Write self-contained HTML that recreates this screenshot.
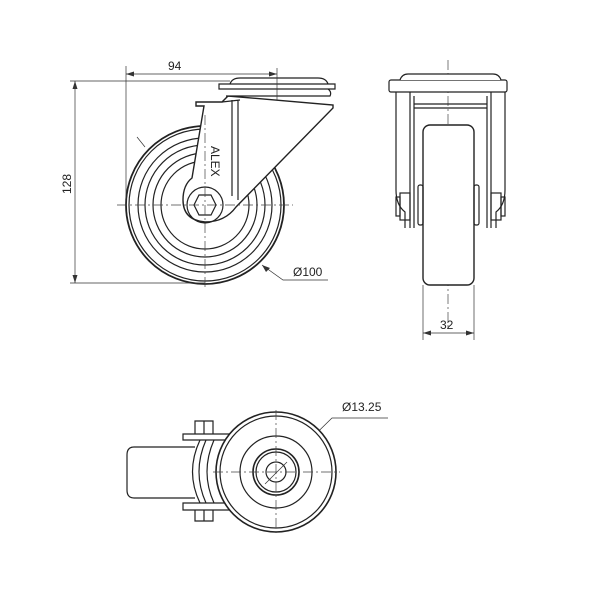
<!DOCTYPE html>
<html><head><style>html,body{margin:0;padding:0;background:#fff}svg{display:block}</style></head>
<body>
<svg width="600" height="600" viewBox="0 0 600 600" xmlns="http://www.w3.org/2000/svg" font-family="Liberation Sans, sans-serif">
<g fill="none" stroke="#222" stroke-width="1.2">
<circle cx="205" cy="205" r="79" stroke-width="1.8"/>
<circle cx="205" cy="205" r="76"/>
<circle cx="205" cy="205" r="67"/>
<circle cx="205" cy="205" r="60"/>
<circle cx="205" cy="205" r="52"/>
<circle cx="205" cy="205" r="44"/>
<path d="M196,102 L222,102 L228,96 L333,105 L333,108 L236,207 Q225,222 205,222 Q183,220 183,200 Q183,185 192,178 L204,106 L196,106 Z" fill="#fff" stroke-width="1.4"/>
<path d="M232,100 L232,196 M238,100 L238,200 M222,102 L240,100" />
<circle cx="205" cy="205" r="18"/>
<polygon points="199,195 211,195 216,205 211,215 199,215 194,205" fill="#fff"/>
<path d="M219,84 L335,84 L335,89 L219,89 Z M230,84 Q232,78 240,78 L318,78 Q326,78 328,84 M226,89 L328,89 Q332,92 330,96 L226,96" fill="#fff"/>
<text x="0" y="0" transform="translate(211,146) rotate(90)" font-size="12" fill="#222" stroke="none">ALEX</text>
</g>
<g stroke="#444" stroke-width="0.7" stroke-dasharray="10,3,2,3" fill="none">
<path d="M117,205 L293,205 M205,115 L205,290"/>
<path d="M448,60 L448,330"/>
</g>
<g stroke="#333" stroke-width="0.7" fill="none">
<path d="M70,81 L230,81 M70,283 L205,283 M75,81 L75,283"/>
<path d="M126,66 L126,205 M277,68 L277,100 M126,74 L277,74"/>
<path d="M137,137 L145,147 M262,265 L283,280 L328,280"/>
<path d="M423,285 L423,340 M474,285 L474,340 M423,333 L474,333"/>
<path d="M287,462 L332,418 L388,418"/>
</g>
<g fill="#333">
<polygon points="75,81 72.5,89 77.5,89"/><polygon points="75,283 72.5,275 77.5,275"/>
<polygon points="126,74 134,71.5 134,76.5"/><polygon points="277,74 269,71.5 269,76.5"/>
<polygon points="423,333 431,330.5 431,335.5"/><polygon points="474,333 466,330.5 466,335.5"/>
<polygon points="262,265 270,268 266,272"/>
<polygon points="287,462 291,455 294,458"/>
</g>
<g font-size="12" fill="#222">
<text x="168" y="70">94</text>
<text transform="translate(71,194) rotate(-90)">128</text>
<text x="293" y="276">Ø100</text>
<text x="440" y="329">32</text>
<text x="342" y="411">Ø13.25</text>
</g>
<g fill="none" stroke="#222" stroke-width="1.2">
<path d="M396,92 L396,190 Q396,205 405,212 L405,228 M505,92 L505,190 Q505,205 496,212 L496,228"/>
<path d="M410,92 L410,228 M414,96 L414,228 M487,96 L487,228 M491,92 L491,228"/>
<path d="M414,104 L487,104 M414,108 L487,108"/>
<rect x="389" y="80" width="118" height="12" rx="2" fill="#fff"/>
<path d="M400,80 Q402,74 408,74 L493,74 Q499,74 501,80" fill="#fff"/>
<rect x="423" y="125" width="51" height="160" rx="7" fill="#fff" stroke-width="1.4"/>
<rect x="418" y="185" width="5" height="40" rx="2"/>
<rect x="474" y="185" width="5" height="40" rx="2"/>
<rect x="400" y="193" width="10" height="27"/>
<rect x="491" y="193" width="10" height="27"/>
<rect x="396" y="197" width="4" height="19"/>
<rect x="501" y="197" width="4" height="19"/>
</g>
<g fill="none" stroke="#222" stroke-width="1.2">
<path d="M195,447 L134,447 Q127,447 127,455 L127,490 Q127,498 134,498 L195,498"/>
<path d="M183,434 L232,434 L232,440 L183,440 Z M183,503 L232,503 L232,510 L183,510 Z"/>
<path d="M195,434 L195,421 L213,421 L213,434 M204,421 L204,434 M195,510 L195,521 L213,521 L213,510 M204,510 L204,521"/>
<path d="M200,440 Q185,472 200,503 M206,440 Q192,472 206,503 M214,440 Q200,472 214,503"/>
<circle cx="276" cy="472" r="60" fill="#fff" stroke-width="1.6"/>
<circle cx="276" cy="472" r="56"/>
<circle cx="276" cy="472" r="36"/>
<circle cx="276" cy="472" r="23" stroke-width="1.6"/>
<circle cx="276" cy="472" r="20"/>
<circle cx="276" cy="472" r="10"/>
</g>
<g stroke="#444" stroke-width="0.7" stroke-dasharray="10,3,2,3" fill="none">
<path d="M213,472 L340,472 M276,410 L276,535"/>
</g>
<path d="M265,484 L287,462" stroke="#333" stroke-width="0.7"/>
</svg>
</body></html>
